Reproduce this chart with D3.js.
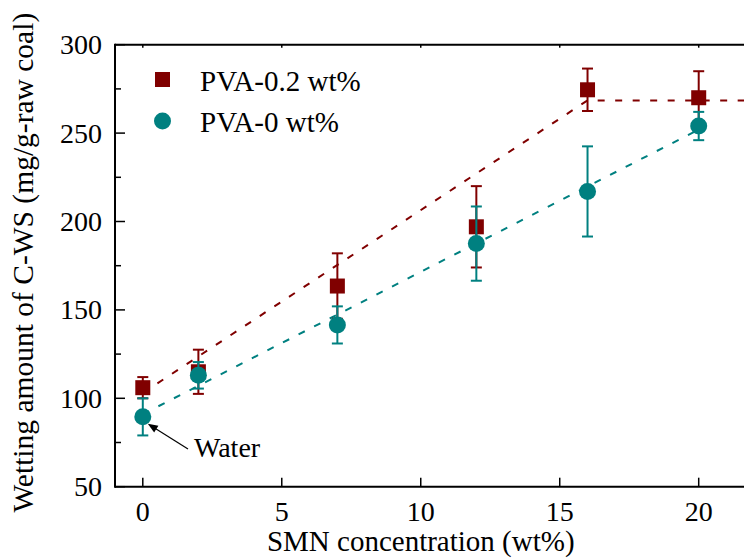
<!DOCTYPE html>
<html><head><meta charset="utf-8"><script src="https://cdn.jsdelivr.net/npm/d3@7"></script></head>
<body style="margin:0">
<svg id="s" width="744" height="560"></svg>
<script>
// SMN concentration (wt%)
const smn = [0, 2, 7, 12, 16, 20];
// Wetting amount with 0.2 wt% PVA, and its error
const pva02 = [106, 115, 163.5, 197, 274.5, 270];
const pva02Err = [6, 12.5, 18.5, 23, 12, 15];
// Wetting amount without PVA, and its error
const pva0 = [89.5, 113, 141.5, 187.5, 217, 254];
const pva0Err = [10.5, 7.5, 10.5, 21, 25.5, 8];
// Dashed trend lines
const trend02X = [0, 16, 22];
const trend02Y = [103, 268.5, 268.5];
const trend0X = [0, 20];
const trend0Y = [91, 252];
// Axis ticks
const xTicks = [0, 5, 10, 15, 20];
const yTicks = [50, 100, 150, 200, 250, 300];
const yMinor = [75, 125, 175, 225, 275];
const seriesNames = ["PVA-0.2 wt%", "PVA-0 wt%"];

const RED = "#800000", TEAL = "#008080";
const s = d3.select("#s");

const x = d3.scaleLinear().domain([-1, 22]).range([115, 754.3]);
const y = d3.scaleLinear().domain([50, 300]).range([486.7, 44.7]);
const L = x.range()[0], R = 760, T = y.range()[1], B = y.range()[0];

// Text in the serif face
function txt(px, py, size, content, anchor) {
  return s.append("text").attr("x", px).attr("y", py)
    .style("font-family", "Liberation Serif").style("font-size", size + "px")
    .attr("text-anchor", anchor || "start").text(content);
}

// Frame
s.append("line").attr("x1", L).attr("x2", R).attr("y1", B).attr("y2", B).attr("stroke", "#000").attr("stroke-width", 2);
s.append("line").attr("x1", L).attr("x2", R).attr("y1", T).attr("y2", T).attr("stroke", "#000").attr("stroke-width", 2);
s.append("line").attr("x1", L).attr("x2", L).attr("y1", T - 1).attr("y2", B + 1).attr("stroke", "#000").attr("stroke-width", 2);

// X ticks: inward on bottom, short on top
xTicks.forEach(t => {
  s.append("line").attr("x1", x(t)).attr("x2", x(t)).attr("y1", B).attr("y2", B - 9).attr("stroke", "#000").attr("stroke-width", 1.5);
  s.append("line").attr("x1", x(t)).attr("x2", x(t)).attr("y1", T).attr("y2", T + 3).attr("stroke", "#000").attr("stroke-width", 1.5);
  txt(x(t), B + 34, 28, d3.format("d")(t), "middle");
});
// Y ticks
yTicks.forEach(t => {
  s.append("line").attr("x1", L).attr("x2", L + 10).attr("y1", y(t)).attr("y2", y(t)).attr("stroke", "#000").attr("stroke-width", 1.5);
  txt(L - 13, y(t) + 9.5, 28, d3.format("d")(t), "end");
});
yMinor.forEach(t => {
  s.append("line").attr("x1", L).attr("x2", L + 6).attr("y1", y(t)).attr("y2", y(t)).attr("stroke", "#000").attr("stroke-width", 1.5);
});

// Axis titles
txt(x(10), 551, 29, "SMN concentration (wt%)", "middle");
txt(0, 0, 29.5, "Wetting amount of C-WS (mg/g-raw coal)", "middle")
  .attr("transform", `translate(33,${(T + B) / 2 - 3}) rotate(-90)`);

// Trend lines
const line = d3.line().x(d => x(d[0])).y(d => y(d[1]));
s.append("path").datum(d3.zip(trend02X, trend02Y)).attr("d", line)
  .attr("fill", "none").attr("stroke", RED).attr("stroke-width", 2).attr("stroke-dasharray", "7,10.5");
s.append("path").datum(d3.zip(trend0X, trend0Y)).attr("d", line)
  .attr("fill", "none").attr("stroke", TEAL).attr("stroke-width", 2).attr("stroke-dasharray", "7,10.5");

// Error bars with caps
function errorBars(vals, errs, color) {
  smn.forEach((v, i) => {
    const cx = x(v), y1 = y(vals[i] + errs[i]), y2 = y(vals[i] - errs[i]);
    s.append("line").attr("x1", cx).attr("x2", cx).attr("y1", y1).attr("y2", y2).attr("stroke", color).attr("stroke-width", 2);
    s.append("line").attr("x1", cx - 5.5).attr("x2", cx + 5.5).attr("y1", y1).attr("y2", y1).attr("stroke", color).attr("stroke-width", 2);
    s.append("line").attr("x1", cx - 5.5).attr("x2", cx + 5.5).attr("y1", y2).attr("y2", y2).attr("stroke", color).attr("stroke-width", 2);
  });
}

errorBars(pva02, pva02Err, RED);
smn.forEach((v, i) => {
  s.append("rect").attr("x", x(v) - 7.5).attr("y", y(pva02[i]) - 7.5).attr("width", 15).attr("height", 15).attr("fill", RED);
});
errorBars(pva0, pva0Err, TEAL);
smn.forEach((v, i) => {
  s.append("circle").attr("cx", x(v)).attr("cy", y(pva0[i])).attr("r", 8.5).attr("fill", TEAL);
});

// Legend
s.append("rect").attr("x", 155).attr("y", 72).attr("width", 15).attr("height", 15).attr("fill", RED);
txt(200, 91, 29, seriesNames[0]);
s.append("circle").attr("cx", 162.5).attr("cy", 121).attr("r", 8.5).attr("fill", TEAL);
txt(200, 132, 29, seriesNames[1]);

// "Water" annotation: line plus a filled arrowhead at the 0 wt% point
const tipX = x(0) + 5, tipY = y(pva0[0]) + 7, startX = 188, startY = 449;
const ang = Math.atan2(tipY - startY, tipX - startX);
s.append("line").attr("x1", startX).attr("y1", startY).attr("x2", tipX - 8 * Math.cos(ang)).attr("y2", tipY - 8 * Math.sin(ang))
  .attr("stroke", "#000").attr("stroke-width", 1.2);
const head = [[0, 0], [-10, -4], [-10, 4]].map(([px, py]) =>
  [tipX + px * Math.cos(ang) - py * Math.sin(ang), tipY + px * Math.sin(ang) + py * Math.cos(ang)]);
s.append("path").attr("d", "M" + head.join("L") + "Z").attr("fill", "#000");
txt(194, 457, 28, "Water");
</script></body></html>
